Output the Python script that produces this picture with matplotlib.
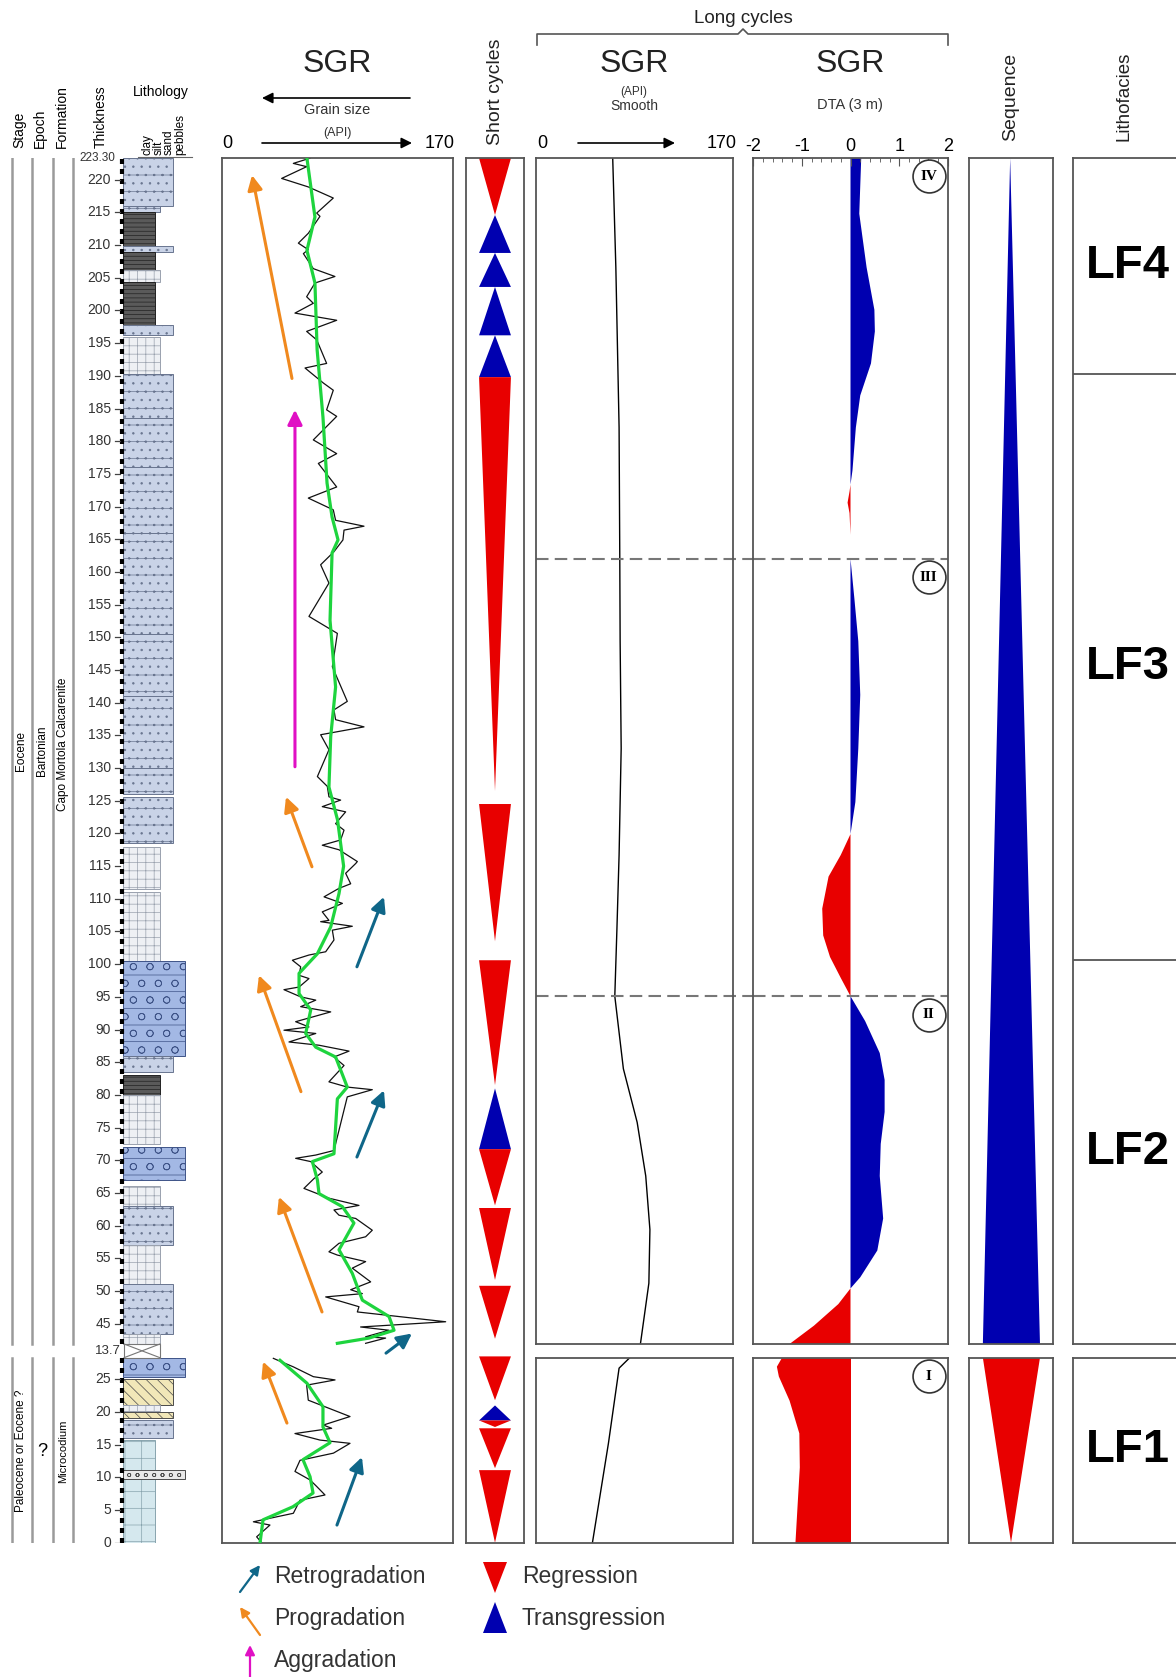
import numpy as np
import matplotlib.pyplot as plt
from matplotlib.patches import Rectangle, Polygon

plt.rcParams['font.family'] = ['Liberation Sans', 'DejaVu Sans']
plt.rcParams['hatch.linewidth'] = 0.5

# ---------------- data (depth in m, SGR in API) ----------------
# raw SGR log, upper unit
sgr_up_depth = [223.3, 222.5, 222.0, 220.2, 218.9, 217.2, 214.9, 214.4, 211.8, 210.3, 209.3, 208.7,
                206.4, 205.2, 204.2, 202.1, 201.1, 199.6, 198.5, 196.8, 195.5, 191.9, 191.2, 188.9,
                187.8, 184.8, 183.8, 180.2, 178.1, 176.6, 173.0, 171.3, 169.5, 167.9, 167.0, 166.4,
                164.9, 163.1, 161.1, 158.3, 153.2, 150.6, 145.5, 140.2, 138.9, 137.4, 136.3, 135.1,
                132.8, 128.7, 127.2, 125.6, 125.1, 124.1, 123.3, 121.5, 120.5, 119.0, 118.2, 117.5,
                115.7, 115.4, 113.9, 112.3, 111.6, 110.3, 109.3, 108.0, 106.7, 106.5, 105.8, 105.2,
                103.7, 101.9, 101.4, 100.6, 99.6, 98.3, 97.8, 96.5, 96.1, 95.0, 94.5, 93.5, 92.7,
                91.2, 90.4, 89.9, 89.4, 88.1, 87.6, 86.7, 85.8, 84.5, 82.0, 81.2, 80.8, 79.7, 71.5,
                70.8, 70.3, 69.8, 68.2, 67.2, 65.7, 64.2, 63.1, 62.4, 61.6, 61.1, 59.3, 58.3, 57.3,
                56.0, 55.5, 54.5, 53.5, 51.4, 50.2, 49.6, 49.1, 47.6, 46.8, 45.3, 44.5, 44.0, 43.0,
                42.8, 42.0]
sgr_up_api = [64.8, 52.5, 62.3, 43.9, 63.5, 81.9, 69.7, 72.1, 63.5, 56.2, 63.5, 59.9,
              67.2, 83.1, 68.4, 62.3, 67.2, 53.7, 84.4, 62.3, 69.7, 77.0, 61.1, 74.6,
              81.9, 77.0, 84.4, 67.2, 84.4, 70.9, 84.4, 63.5, 81.9, 83.6, 104.5, 89.8,
              89.0, 82.4, 72.6, 78.7, 64.0, 84.9, 81.2, 92.2, 82.4, 83.6, 104.5, 72.6,
              78.7, 70.2, 77.5, 78.7, 87.3, 73.8, 91.0, 83.6, 89.8, 87.3, 73.8, 86.1,
              99.6, 98.4, 91.0, 94.7, 86.1, 75.1, 88.6, 73.8, 78.7, 72.6, 95.9, 81.2,
              82.4, 76.3, 64.0, 51.8, 57.9, 56.7, 64.0, 56.7, 45.6, 57.9, 69.0, 57.9, 80.0,
              54.2, 64.0, 45.6, 69.0, 49.3, 71.4, 93.5, 82.4, 89.8, 78.7, 92.2, 110.6, 92.2, 82.4,
              69.0, 54.2, 65.3, 73.8, 67.7, 60.3, 78.7, 100.8, 82.4, 86.1, 98.4, 110.6, 105.7, 86.1,
              78.7, 84.9, 105.7, 95.9, 109.4, 94.7, 103.3, 76.3, 100.8, 99.6, 164.6, 102.0, 122.9, 105.7,
              120.4, 105.7]
# raw SGR log, lower unit
sgr_low_depth = [28.2, 26.9, 25.4, 24.9, 24.1, 21.8, 19.3, 18.0, 17.5, 16.7, 15.7, 15.2, 13.7,
                 12.6, 10.9, 9.6, 8.6, 7.3, 6.5, 4.5, 3.2, 2.7, 0.9, 0.0]
sgr_low_api = [37.8, 52.5, 67.2, 83.2, 62.3, 63.5, 94.2, 74.6, 80.7, 53.7, 72.1, 94.2, 82.0,
               57.4, 53.7, 64.8, 69.7, 75.8, 57.4, 52.5, 23.1, 35.3, 25.5, 29.2]

# smoothed SGR trend (green)
trend_up_depth = [223.3, 214.3, 209.2, 204.2, 194.0, 183.7, 173.6, 168.4, 164.9, 162.9, 152.6,
                  142.4, 134.8, 127.1, 122.1, 115.0, 110.8, 105.7, 101.6, 98.6, 95.5, 93.0, 89.4,
                  87.3, 85.8, 81.2, 79.4, 71.0, 69.8, 67.0, 64.9, 62.9, 60.4, 56.3, 52.7, 48.6,
                  46.1, 44.0, 42.8, 42.0]
trend_up_api = [62.5, 68.4, 62.5, 68.4, 70.0, 74.3, 77.3, 81.0, 85.4, 81.0, 79.5,
                83.6, 80.0, 78.7, 85.0, 89.5, 86.1, 80.0, 70.2, 56.7, 56.7, 65.3, 61.6,
                69.0, 83.6, 92.2, 84.9, 82.4, 66.5, 70.2, 71.4, 88.6, 97.1, 86.1, 95.9, 103.3,
                122.9, 126.6, 108.2, 84.9]
trend_low_depth = [27.9, 24.4, 20.8, 17.7, 15.3, 12.7, 10.1, 7.6, 5.5, 3.5, 0.0]
trend_low_api = [42.7, 62.5, 74.3, 74.3, 79.5, 59.6, 64.8, 67.0, 52.2, 30.2, 28.0]

# long cycles: smoothed SGR
smooth_up_depth = [223.3, 206.6, 182.1, 162.0, 149.4, 133.0, 116.7, 105.2, 95.1, 84.0, 75.8,
                   67.6, 59.4, 51.2, 41.9]
smooth_up_api = [66.2, 68.9, 71.7, 72.3, 72.6, 73.5, 71.7, 69.8, 68.0, 75.4, 87.3,
                 94.7, 98.3, 97.4, 90.1]
smooth_low_depth = [28.3, 26.7, 15.2, 0.0]
smooth_low_api = [80.9, 71.7, 62.5, 48.7]

# long cycles: DTA (3 m)
dta_up_depth = [223.3, 214.8, 206.6, 200.1, 196.8, 191.9, 187.0, 182.1, 175.5, 172.3, 170.6,
                169.0, 165.7, 162.0, 155.9, 149.4, 141.2, 133.0, 124.8, 119.9, 116.7, 113.4,
                108.5, 104.4, 101.1, 97.9, 95.1, 91.3, 86.4, 82.3, 77.4, 72.5, 67.6, 61.1,
                56.2, 52.1, 50.4, 48.0, 44.7, 41.9]
dta_up = [0.22, 0.18, 0.33, 0.49, 0.5, 0.42, 0.2, 0.11, 0.04, -0.02, -0.06,
          -0.02, 0.0, 0.0, 0.08, 0.16, 0.2, 0.16, 0.1, 0.0, -0.2, -0.45,
          -0.58, -0.56, -0.42, -0.2, 0.0, 0.3, 0.6, 0.7, 0.7, 0.62, 0.6, 0.67,
          0.55, 0.2, 0.0, -0.25, -0.75, -1.25]
dta_low_depth = [28.3, 27.0, 25.5, 21.8, 16.8, 11.6, 6.5, 0.0]
dta_low = [-1.42, -1.52, -1.48, -1.26, -1.06, -1.05, -1.09, -1.14]

# short cycles (R = regression, T = transgression)
cyc_top = [223.3, 214.6, 208.8, 203.6, 196.2, 189.8, 124.5, 100.6, 81.0, 71.7, 62.7, 50.8,
           28.5, 21.0, 18.7, 17.5, 11.1]
cyc_base = [214.6, 208.8, 203.6, 196.2, 189.8, 126.5, 103.5, 81.5, 71.7, 63.1, 51.7, 42.7,
            21.8, 18.7, 17.7, 11.4, 0.0]
cyc_kind = ['R', 'T', 'T', 'T', 'T', 'R', 'R', 'R', 'T', 'R', 'R', 'R',
            'R', 'T', 'R', 'R', 'R']

# long cycles and sequences
long_top = [223.3, 162.0, 95.1, 28.3]
long_name = ['IV', 'III', 'II', 'I']
seq_top = [223.3, 28.3]
seq_base = [41.9, 0.0]
seq_kind = ['T', 'R']

# lithofacies
lf_name = ['LF4', 'LF3', 'LF2', 'LF1']
lf_top = [223.3, 190.3, 100.6, 28.3]
lf_base = [190.3, 100.6, 41.9, 0.0]

# lithology log
lith_top = [223.3, 216.0, 215.0, 209.8, 209.0, 206.2, 204.3, 197.8, 196.0, 190.3, 183.5, 176.0,
            166.0, 150.5, 141.0, 130.0, 125.5, 118.0, 111.0, 100.5, 86.0, 83.0, 80.0, 72.0,
            66.0, 63.0, 57.0, 51.0, 43.5,
            28.3, 25.0, 21.1, 20.0, 18.7, 15.7, 11.1]
lith_base = [216.0, 215.0, 209.8, 209.0, 206.2, 204.3, 197.8, 196.3, 190.3, 183.5, 176.0, 166.0,
             150.5, 141.0, 130.0, 126.0, 118.5, 111.5, 100.5, 86.0, 83.5, 80.0, 72.5, 67.0,
             63.0, 57.0, 51.0, 43.5, 41.9,
             25.3, 21.1, 20.2, 19.0, 16.0, 0.0, 9.8]
lith_grain = ['sand', 'silt', 'clay', 'sand', 'clay', 'silt', 'clay', 'sand', 'silt', 'sand', 'sand', 'sand',
              'sand', 'sand', 'sand', 'sand', 'sand', 'silt', 'silt', 'pebbles', 'sand', 'silt', 'silt', 'pebbles',
              'silt', 'sand', 'silt', 'sand', 'silt',
              'pebbles', 'sand', 'silt', 'sand', 'sand', 'clay', 'pebbles']
lith_type = ['calc', 'calc', 'marl', 'calc', 'marl', 'light', 'marl', 'calc', 'light', 'calc', 'calc', 'calc',
             'calc', 'calc', 'calc', 'calc', 'calc', 'light', 'light', 'blue', 'calc', 'marl', 'light', 'blue',
             'light', 'calc', 'light', 'calc', 'light',
             'blue', 'wavy', 'light', 'wavy', 'calc', 'teal', 'congl']

thick_ticks_up = list(range(45, 225, 5))
thick_ticks_low = list(range(0, 30, 5))

# stacking trend arrows: (kind, api start, depth start, api end, depth end)
arrow_kind = ['pro', 'pro', 'pro', 'pro', 'pro', 'retro', 'retro', 'retro', 'retro', 'aggr']
arrow_api0 = [51.5, 66.2, 58.1, 73.6, 47.8, 99.3, 99.3, 120.7, 84.6, 53.7]
arrow_d0 = [189.6, 114.9, 80.5, 46.8, 18.3, 99.6, 70.5, 40.5, 2.7, 130.2]
arrow_api1 = [22.1, 47.1, 27.2, 41.9, 30.2, 119.2, 119.2, 139.8, 103.0, 53.7]
arrow_d1 = [220.7, 125.6, 98.3, 64.4, 27.7, 110.3, 80.7, 43.5, 13.1, 184.8]

# ---------------- layout helpers ----------------
W, H = 1176, 1677
Y_BASE = 1542.7      # pixel row of 0 m
PX_M = 6.537         # pixels per metre
CUT = 11.5           # metres hidden by the break between the two units
LOW_TOP, UP_BOT, TOP = 28.3, 41.9, 223.3
P_TOP = TOP - CUT
P_UPB = UP_BOT - CUT

RED = '#e80000'
BLUE = '#0000b0'
ARROW_COL = {'pro': '#f0891e', 'retro': '#0f6688', 'aggr': '#e010c4'}


def yp(d):
    d = np.asarray(d, dtype=float)
    return np.where(d < 35, d, d - CUT)


fig = plt.figure(figsize=(W / 100, H / 100), dpi=100)


def panel(x0, x1, p0, p1, frame=True):
    top = Y_BASE - p1 * PX_M
    bot = Y_BASE - p0 * PX_M
    ax = fig.add_axes([x0 / W, 1 - bot / H, (x1 - x0) / W, (bot - top) / H])
    ax.set_ylim(p0, p1)
    ax.set_xticks([])
    ax.set_yticks([])
    for s in ax.spines.values():
        s.set_color('#555555')
        s.set_linewidth(1.3)
        s.set_visible(frame)
    ax.patch.set_alpha(0)
    return ax


# ---------------- lithology column + depth scale ----------------
lx = panel(0, 220, 0, P_TOP, frame=False)
lx.set_xlim(0, 220)
GRAIN_RIGHT = {'clay': 155, 'silt': 160, 'sand': 173, 'pebbles': 185}
LITH_STYLE = {
    'calc': dict(fc='#c9d3e7', ec='#69758f', hatch='-..'),
    'light': dict(fc='#eef0f4', ec='#9aa1ae', hatch='++'),
    'marl': dict(fc='#5a5a5a', ec='#222222', hatch='----'),
    'blue': dict(fc='#a3b8e4', ec='#3f5488', hatch='-o'),
    'wavy': dict(fc='#f1e7b8', ec='#4a4a4a', hatch='\\\\\\'),
    'teal': dict(fc='#d5e8ee', ec='#88a4ae', hatch='+'),
    'congl': dict(fc='#e9e9e9', ec='#4a4a4a', hatch='oo'),
}
for t, b, g, k in zip(lith_top, lith_base, lith_grain, lith_type):
    y0, y1 = float(yp(b)), float(yp(t))
    lx.add_patch(Rectangle((123, y0), GRAIN_RIGHT[g] - 123, y1 - y0, lw=0.7, **LITH_STYLE[k]))
# eroded gap
lx.add_patch(Rectangle((124, LOW_TOP), 36, P_UPB - LOW_TOP, fc='white', ec='#777', lw=0.8))
lx.plot([124, 160], [LOW_TOP, P_UPB], color='#777', lw=0.8)
lx.plot([124, 160], [P_UPB, LOW_TOP], color='#777', lw=0.8)
lx.text(121, (LOW_TOP + P_UPB) / 2, '13.7', ha='right', va='center', fontsize=9.5, color='#333')
# dotted scale bar
for a, b in [(0, LOW_TOP), (P_UPB, P_TOP)]:
    lx.plot([121.5, 121.5], [a, b], color='k', lw=3, ls=(0, (1.2, 1.2)))
for d in thick_ticks_up + thick_ticks_low:
    y = float(yp(d))
    lx.plot([115, 120], [y, y], color='#444', lw=0.9)
    lx.text(111, y, str(d), ha='right', va='center', fontsize=10, color='#333')
lx.text(115, P_TOP, '223.30', ha='right', va='center', fontsize=8.5, color='#333')
lx.plot([138, 192], [P_TOP + 0.2, P_TOP + 0.2], color='#666', lw=0.8, clip_on=False)
# stratigraphic columns
for x in [12, 32, 53, 73]:
    lx.plot([x, x], [P_UPB, P_TOP], color='#9a9a9a', lw=1.8)
    lx.plot([x, x], [0, LOW_TOP], color='#9a9a9a', lw=1.8)
up_mid = (P_UPB + P_TOP) / 2
lx.text(21, up_mid, 'Eocene', rotation=90, ha='center', va='center', fontsize=8.5)
lx.text(42, up_mid, 'Bartonian', rotation=90, ha='center', va='center', fontsize=8.5)
lx.text(63, up_mid + 1, 'Capo Mortola Calcarenite', rotation=90, ha='center', va='center', fontsize=8.5)
lx.text(21, 14, 'Paleocene or Eocene ?', rotation=90, ha='center', va='center', fontsize=8.5)
lx.text(42, 14, '?', ha='center', va='center', fontsize=13)
lx.text(63, 14, 'Microcodium', rotation=90, ha='center', va='center', fontsize=8)

# ---------------- SGR log ----------------
ax = panel(222, 453, 0, P_TOP)
ax.set_xlim(0, 170)
ax.plot(sgr_up_api, yp(sgr_up_depth), color='#111', lw=0.9, zorder=2)
ax.plot(sgr_low_api, yp(sgr_low_depth), color='#111', lw=0.9, zorder=2)
ax.plot(trend_up_api, yp(trend_up_depth), color='#1ed43e', lw=2.3, zorder=3)
ax.plot(trend_low_api, yp(trend_low_depth), color='#1ed43e', lw=2.3, zorder=3)
for k, a0, d0, a1, d1 in zip(arrow_kind, arrow_api0, arrow_d0, arrow_api1, arrow_d1):
    ax.annotate('', xy=(a1, float(yp(d1))), xytext=(a0, float(yp(d0))),
                arrowprops=dict(arrowstyle='-|>', color=ARROW_COL[k], lw=2.2,
                                mutation_scale=22, shrinkA=0, shrinkB=0))

# ---------------- short cycles ----------------
sc = panel(466, 524, 0, P_TOP)
sc.set_xlim(-1, 1)
hw = 0.55
for t, b, k in zip(cyc_top, cyc_base, cyc_kind):
    yt, yb = float(yp(t)), float(yp(b))
    if k == 'R':
        pts = [(-hw, yt), (hw, yt), (0, yb)]
    else:
        pts = [(0, yt), (-hw, yb), (hw, yb)]
    sc.add_patch(Polygon(pts, closed=True, fc=RED if k == 'R' else BLUE, ec='none'))

# ---------------- long cycles: smooth SGR ----------------
sm_up = panel(536, 733, P_UPB, P_TOP)
sm_low = panel(536, 733, 0, LOW_TOP)
for a in (sm_up, sm_low):
    a.set_xlim(0, 170)
sm_up.plot(smooth_up_api, yp(smooth_up_depth), color='k', lw=1.0)
sm_low.plot(smooth_low_api, yp(smooth_low_depth), color='k', lw=1.0)

# ---------------- long cycles: DTA ----------------
dt_up = panel(753, 948, P_UPB, P_TOP)
dt_low = panel(753, 948, 0, LOW_TOP)
for a, dd, vv in ((dt_up, dta_up_depth, dta_up), (dt_low, dta_low_depth, dta_low)):
    a.set_xlim(-2, 2)
    y = yp(dd)
    v = np.asarray(vv)
    a.fill_betweenx(y, 0, v, where=v >= 0, color=BLUE, lw=0, interpolate=True)
    a.fill_betweenx(y, 0, v, where=v <= 0, color=RED, lw=0, interpolate=True)
dt_up.xaxis.tick_top()
dt_up.set_xticks([-2, -1, 0, 1, 2])
dt_up.set_xticklabels(['-2', '-1', '0', '1', '2'], fontsize=13)
dt_up.set_xticks(np.arange(-2, 2.01, 0.2), minor=True)
dt_up.tick_params(axis='x', which='major', direction='in', length=6, pad=2, colors='#555', labelcolor='k')
dt_up.tick_params(axis='x', which='minor', direction='in', length=3, colors='#555')

# long-cycle boundaries and labels
gap_frac = (753 - 733) / (733 - 536)
for d in long_top[1:3]:
    sm_up.axhline(float(yp(d)), xmin=0, xmax=1 + gap_frac, color='#777', lw=1.5,
                  ls=(0, (6, 3)), clip_on=False)
    dt_up.axhline(float(yp(d)), color='#777', lw=1.5, ls=(0, (6, 3)))
for d, name in zip(long_top, long_name):
    a = dt_low if d < 35 else dt_up
    y = float(yp(d - 2.8))
    a.scatter([1.6], [y], s=560, facecolors='white', edgecolors='#333', lw=1.2, zorder=5)
    a.text(1.6, y, name, ha='center', va='center', fontsize=11, fontweight='bold',
           family=['Liberation Serif', 'DejaVu Serif'], zorder=6)

# ---------------- sequence ----------------
sq_up = panel(969, 1053, P_UPB, P_TOP)
sq_low = panel(969, 1053, 0, LOW_TOP)
for t, b, k in zip(seq_top, seq_base, seq_kind):
    a = sq_low if t < 35 else sq_up
    a.set_xlim(-1, 1)
    yt, yb = float(yp(t)), float(yp(b))
    if k == 'T':
        pts = [(-0.02, yt), (-0.67, yb), (0.69, yb)]
    else:
        pts = [(-0.67, yt), (0.69, yt), (0.0, yb)]
    a.add_patch(Polygon(pts, closed=True, fc=BLUE if k == 'T' else RED, ec='none'))

# ---------------- lithofacies ----------------
lf_up = panel(1073, 1200, P_UPB, P_TOP)
lf_low = panel(1073, 1200, 0, LOW_TOP)
for a in (lf_up, lf_low):
    a.set_xlim(0, 1)
for name, t, b in zip(lf_name, lf_top, lf_base):
    a = lf_low if t < 35 else lf_up
    if t < TOP and t >= 35:
        a.axhline(float(yp(t)), color='#555', lw=1.3)
    a.text(0.43, float(yp((t + b) / 2)), name, ha='center', va='center',
           fontsize=34, fontweight='bold')

# ---------------- headers and legend (pixel overlay) ----------------
ov = fig.add_axes([0, 0, 1, 1], zorder=10)
ov.set_xlim(0, W)
ov.set_ylim(H, 0)
ov.axis('off')

for x, s in [(19, 'Stage'), (40, 'Epoch'), (62, 'Formation'), (101, 'Thickness')]:
    ov.text(x, 148, s, rotation=90, ha='center', va='bottom', fontsize=10)
ov.text(161, 92, 'Lithology', ha='center', va='center', fontsize=10)
for x, s in [(148, 'clay'), (159, 'silt'), (169, 'sand'), (180, 'pebbles')]:
    ov.text(x, 155, s, rotation=90, ha='center', va='bottom', fontsize=8.5)

arrow_kw = dict(arrowstyle='-|>', color='k', lw=1.2, mutation_scale=16, shrinkA=0, shrinkB=0)
# SGR header
ov.text(337, 64, 'SGR', ha='center', va='center', fontsize=23, color='#222')
ov.annotate('', xy=(262, 98), xytext=(410, 98), arrowprops=arrow_kw)
ov.text(337, 110, 'Grain size', ha='center', va='center', fontsize=10.5, color='#333')
ov.text(337, 133, '(API)', ha='center', va='center', fontsize=9, color='#333')
ov.text(222, 143, '0', ha='left', va='center', fontsize=13)
ov.text(455, 143, '170', ha='right', va='center', fontsize=13)
ov.annotate('', xy=(412, 143), xytext=(262, 143), arrowprops=arrow_kw)
ov.text(496, 145, 'Short cycles', rotation=90, ha='center', va='bottom', fontsize=14, color='#222')

# long cycles header
ov.plot([537, 537, 738, 743, 748, 948, 948], [45, 34, 34, 29, 34, 34, 45], color='#555', lw=1.2)
ov.text(743, 18, 'Long cycles', ha='center', va='center', fontsize=13.5, color='#222')
ov.text(634, 64, 'SGR', ha='center', va='center', fontsize=23, color='#222')
ov.text(634, 92, '(API)', ha='center', va='center', fontsize=8.5, color='#333')
ov.text(634, 106, 'Smooth', ha='center', va='center', fontsize=10, color='#333')
ov.text(537, 143, '0', ha='left', va='center', fontsize=13)
ov.text(737, 143, '170', ha='right', va='center', fontsize=13)
ov.annotate('', xy=(675, 143), xytext=(578, 143), arrowprops=arrow_kw)
ov.text(850, 64, 'SGR', ha='center', va='center', fontsize=23, color='#222')
ov.text(850, 105, 'DTA (3 m)', ha='center', va='center', fontsize=10.5, color='#333')
ov.text(1011, 141, 'Sequence', rotation=90, ha='center', va='bottom', fontsize=14, color='#222')
ov.text(1124, 141, 'Lithofacies', rotation=90, ha='center', va='bottom', fontsize=13.5, color='#222')

# legend
leg_arrows = [('retro', (240, 1592), (260, 1565), 'Retrogradation', 1576),
              ('pro', (260, 1635), (240, 1607), 'Progradation', 1618),
              ('aggr', (250, 1680), (250, 1645), 'Aggradation', 1660)]
for k, p0, p1, label, ty in leg_arrows:
    ov.annotate('', xy=p1, xytext=p0, arrowprops=dict(arrowstyle='-|>', color=ARROW_COL[k], lw=1.6,
                                                      mutation_scale=14, shrinkA=0, shrinkB=0),
                annotation_clip=False)
    ov.text(274, ty, label, ha='left', va='center', fontsize=16.5, color='#333')
ov.add_patch(Polygon([(483, 1562), (507, 1562), (495, 1593)], fc=RED, ec='none'))
ov.add_patch(Polygon([(495, 1602), (483, 1633), (507, 1633)], fc=BLUE, ec='none'))
ov.text(522, 1576, 'Regression', ha='left', va='center', fontsize=16.5, color='#333')
ov.text(522, 1618, 'Transgression', ha='left', va='center', fontsize=16.5, color='#333')

fig.savefig('out.png', dpi=100)
